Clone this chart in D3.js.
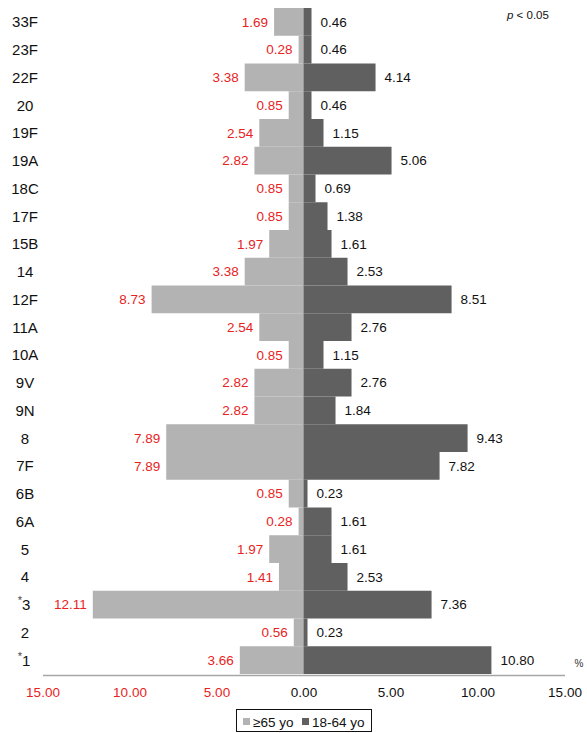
<!DOCTYPE html>
<html lang="en">
<head>
    <meta charset="UTF-8">
    <title>Serotype distribution by age group</title>
    <script src="https://d3js.org/d3.v7.min.js"></script>
    <style>
        body {
            margin: 0;
            background: #fff;
            font-family: "Liberation Sans", Arial, Helvetica, sans-serif;
        }
        svg text {
            font-family: "Liberation Sans", Arial, Helvetica, sans-serif;
        }
    </style>
</head>
<body>
    <svg id="chart" width="587" height="733"></svg>
    <script>
        // serotypes, top to bottom
        let categories = ["33F", "23F", "22F", "20", "19F", "19A", "18C", "17F", "15B", "14",
            "12F", "11A", "10A", "9V", "9N", "8", "7F", "6B", "6A", "5", "4", "*3", "2", "*1"]
        // >=65 yo (%)
        let olderValues = [1.69, 0.28, 3.38, 0.85, 2.54, 2.82, 0.85, 0.85, 1.97, 3.38,
            8.73, 2.54, 0.85, 2.82, 2.82, 7.89, 7.89, 0.85, 0.28, 1.97, 1.41, 12.11, 0.56, 3.66]
        // 18-64 yo (%)
        let adultValues = [0.46, 0.46, 4.14, 0.46, 1.15, 5.06, 0.69, 1.38, 1.61, 2.53,
            8.51, 2.76, 1.15, 2.76, 1.84, 9.43, 7.82, 0.23, 1.61, 1.61, 2.53, 7.36, 0.23, 10.80]
        let tickValues = [-15, -10, -5, 0, 5, 10, 15]
        let seriesNames = ["≥65 yo", "18-64 yo"]

        let lightGray = "#b3b3b3"
        let darkGray = "#606060"
        let red = "#e8231e"

        let svg = d3.select("#chart")

        let x = d3.scaleLinear().domain([-15, 15]).range([42.5, 564.5])
        let y = d3.scaleBand().domain(categories).range([8, 674]).padding(0)

        let rows = categories.map((c, i) => ({ cat: c, older: olderValues[i], adult: adultValues[i] }))

        // left bars (>=65)
        svg.append("g").selectAll("rect")
            .data(rows)
            .join("rect")
            .attr("x", d => x(-d.older))
            .attr("y", d => y(d.cat))
            .attr("width", d => x(0) - x(-d.older))
            .attr("height", y.bandwidth())
            .attr("fill", lightGray)

        // right bars (18-64)
        svg.append("g").selectAll("rect")
            .data(rows)
            .join("rect")
            .attr("x", x(0))
            .attr("y", d => y(d.cat))
            .attr("width", d => x(d.adult) - x(0))
            .attr("height", y.bandwidth())
            .attr("fill", darkGray)

        // thin seam at zero
        svg.append("line")
            .attr("x1", x(0)).attr("x2", x(0))
            .attr("y1", y.range()[0]).attr("y2", y.range()[1])
            .attr("stroke", "#999")
            .attr("stroke-width", 0.8)

        // value labels
        svg.append("g").selectAll("text")
            .data(rows)
            .join("text")
            .attr("x", d => x(-d.older) - 6)
            .attr("y", d => y(d.cat) + y.bandwidth() / 2)
            .attr("dy", "0.36em")
            .attr("text-anchor", "end")
            .attr("font-size", "13.5px")
            .attr("fill", red)
            .text(d => d.older.toFixed(2))

        svg.append("g").selectAll("text")
            .data(rows)
            .join("text")
            .attr("x", d => x(d.adult) + 9)
            .attr("y", d => y(d.cat) + y.bandwidth() / 2)
            .attr("dy", "0.36em")
            .attr("text-anchor", "start")
            .attr("font-size", "13.5px")
            .attr("fill", "#111")
            .text(d => d.adult.toFixed(2))

        // category labels
        let catLabels = svg.append("g").selectAll("text")
            .data(rows)
            .join("text")
            .attr("x", 25)
            .attr("y", d => y(d.cat) + y.bandwidth() / 2)
            .attr("dy", "0.36em")
            .attr("text-anchor", "middle")
            .attr("font-size", "15px")
            .attr("fill", "#111")
        catLabels.each(function (d) {
            let t = d3.select(this)
            if (d.cat.startsWith("*")) {
                t.attr("x", 24)
                t.append("tspan").attr("font-size", "11px").attr("fill", "#444")
                    .attr("dy", "-0.05em").text("*")
                t.append("tspan").attr("dy", "0.41em").text(d.cat.slice(1))
            } else {
                t.text(d.cat)
            }
        })

        // x axis
        let xAxis = svg.append("g")
            .attr("transform", "translate(0,675)")
            .call(d3.axisBottom(x)
                .tickValues(tickValues)
                .tickSize(0)
                .tickPadding(12)
                .tickFormat(d => Math.abs(d).toFixed(2)))
        xAxis.select(".domain").attr("stroke", "#a6a6a6").attr("stroke-width", 1.5)
        xAxis.selectAll(".tick text")
            .attr("font-size", "13.5px")
            .attr("fill", d => d < 0 ? red : "#111")

        svg.append("text")
            .attr("x", 579)
            .attr("y", 667)
            .attr("text-anchor", "middle")
            .attr("font-size", "10px")
            .attr("fill", "#333")
            .text("%")

        // significance note
        let note = svg.append("text")
            .attr("x", 507)
            .attr("y", 19)
            .attr("font-size", "11.5px")
            .attr("fill", "#111")
        note.append("tspan").attr("font-style", "italic").text("p")
        note.append("tspan").text(" < 0.05")

        // legend
        let legend = svg.append("g").attr("transform", "translate(236,709)")
        legend.append("rect")
            .attr("x", 0.5).attr("y", 0.5)
            .attr("width", 135).attr("height", 22)
            .attr("fill", "#fff")
            .attr("stroke", "#111")
            .attr("stroke-width", 1)
        let legendItems = [
            { name: seriesNames[0], color: lightGray, x: 7 },
            { name: seriesNames[1], color: darkGray, x: 66 }
        ]
        legendItems.forEach(item => {
            legend.append("rect")
                .attr("x", item.x).attr("y", 9)
                .attr("width", 7).attr("height", 7)
                .attr("fill", item.color)
            legend.append("text")
                .attr("x", item.x + 10)
                .attr("y", 13)
                .attr("dy", "0.36em")
                .attr("font-size", "13.5px")
                .attr("fill", "#111")
                .text(item.name)
        })
    </script>
</body>
</html>
